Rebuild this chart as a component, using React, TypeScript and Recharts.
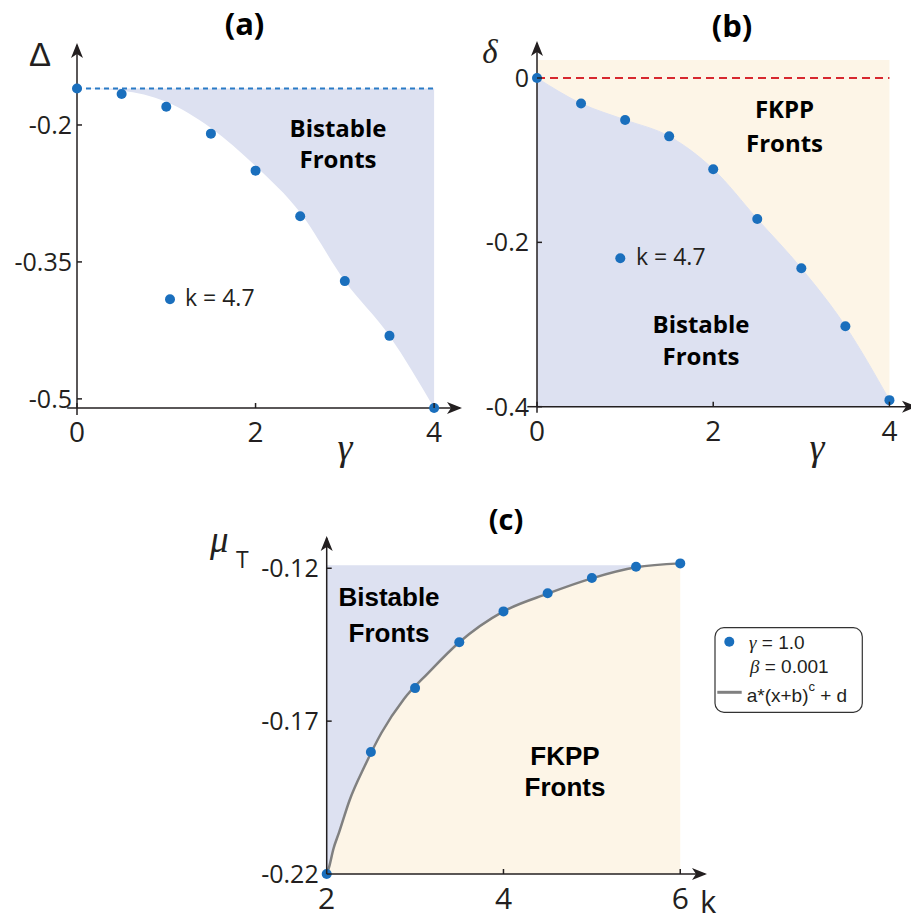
import {
  ComposedChart,
  Area,
  Line,
  Scatter,
  XAxis,
  YAxis,
  ReferenceLine,
  ReferenceDot,
} from "recharts";

// (a) threshold Delta vs gamma at k = 4.7
const gammaA = [0, 0.5, 1, 1.5, 2, 2.5, 3, 3.5, 4];
const deltaA = [-0.16, -0.166, -0.18, -0.2095, -0.25, -0.3, -0.371, -0.431, -0.51];
const edgeA = [-0.16, -0.1624, -0.1745, -0.2033, -0.245, -0.296, -0.371, -0.431, -0.51];
const deltaTopA = -0.16;
const xTicksA = [0, 2, 4];
const yTicksA = [-0.5, -0.35, -0.2];

// (b) delta vs gamma at k = 4.7
const gammaB = [0, 0.5, 1, 1.5, 2, 2.5, 3, 3.5, 4];
const deltaB = [0, -0.031, -0.051, -0.071, -0.111, -0.1716, -0.2316, -0.302, -0.392];
const fkppTopB = 0.022;
const xTicksB = [0, 2, 4];
const yTicksB = [-0.4, -0.2, 0];

// (c) mu_T vs k, gamma = 1.0, beta = 0.001
const kC = [2, 2.5, 3, 3.5, 4, 4.5, 5, 5.5, 6];
const muC = [-0.22, -0.1801, -0.1592, -0.1442, -0.1341, -0.1282, -0.1232, -0.1195, -0.1184];
const kFit = [2, 2.03, 2.075, 2.14, 2.26, 2.43, 2.62, 2.87, 3.15, 3.5, 4, 4.5, 5, 5.5, 6];
const muFit = [-0.22, -0.2174, -0.2119, -0.2064, -0.1958, -0.1847, -0.1738, -0.1629, -0.1542, -0.1442, -0.1341, -0.1283, -0.1233, -0.1197, -0.1184];
const bistableTopC = -0.119;
const xTicksC = [2, 4, 6];
const yTicksC = [-0.22, -0.17, -0.12];

const AXIS = "#231f20";
const DOT = "#1a6fbd";
const BLUE = "#dde1f1";
const YELLOW = "#fdf5e7";
const FIT = "#808080";
const RED = "#d7282f";
const DASH = "#2a7bc6";

const SANS = "'Open Sans', sans-serif";
const SERIF = "'Liberation Serif', serif";
const HEL = "'Liberation Sans', Arial, sans-serif";
const axisLine = { stroke: AXIS, strokeWidth: 1.5 };

const dot = (p: any) => <circle cx={p.cx} cy={p.cy} r={5} fill={DOT} />;

// ticks point inwards, so the tick marks are drawn here together with the labels
const xTick = (size: number, gap: number) => (p: any) => (
  <g>
    <line x1={p.x} y1={p.y} x2={p.x} y2={p.y - 5} stroke={AXIS} strokeWidth={1.5} />
    <text x={p.x} y={p.y + gap} dy="0.72em" textAnchor="middle" fontFamily={SANS} fontSize={size} fill={AXIS}>
      {p.payload.value}
    </text>
  </g>
);
const yTick = (size: number, gap: number) => (p: any) => (
  <g>
    <line x1={p.x} y1={p.y} x2={p.x + 5} y2={p.y} stroke={AXIS} strokeWidth={1.5} />
    <text x={p.x - gap} y={p.y} dy="0.36em" textAnchor="end" fontFamily={SANS} fontSize={size} fill={AXIS}>
      {p.payload.value}
    </text>
  </g>
);

const arrowRight = (p: any) => (
  <polygon
    points={`${p.cx + 2},${p.cy} ${p.cx - 13},${p.cy - 6} ${p.cx - 9},${p.cy} ${p.cx - 13},${p.cy + 6}`}
    fill={AXIS}
  />
);
const arrowUp = (p: any) => (
  <polygon
    points={`${p.cx},${p.cy - 2} ${p.cx - 6},${p.cy + 13} ${p.cx},${p.cy + 9} ${p.cx + 6},${p.cy + 13}`}
    fill={AXIS}
  />
);

function PanelA() {
  const rows = gammaA.map((g, i) => ({ x: g, band: [edgeA[i], deltaTopA] }));
  const pts = gammaA.map((g, i) => ({ x: g, y: deltaA[i] }));
  const yMin = -0.51;
  const yMax = -0.1124;
  const xMax = 4.29;
  return (
    <div style={{ position: "absolute", left: 0, top: 0 }}>
      <ComposedChart width={470} height={470} data={rows} margin={{ top: 45, right: 10, bottom: 32, left: 17 }}>
        <Area dataKey="band" type="monotone" fill={BLUE} fillOpacity={1} stroke="none" isAnimationActive={false} />
        <XAxis type="number" dataKey="x" domain={[0, xMax]} ticks={xTicksA} interval={0} height={30}
          tickSize={0} tickMargin={0} axisLine={axisLine} tickLine={false} tick={xTick(28, 14)} />
        <YAxis type="number" domain={[yMin, yMax]} ticks={yTicksA} interval={0} width={60}
          tickSize={0} tickMargin={0} axisLine={axisLine} tickLine={false} tick={yTick(25, 5)} />
        <ReferenceLine segment={[{ x: -0.11, y: yMin }, { x: 0, y: yMin }]} stroke={AXIS} strokeWidth={1.5} ifOverflow="visible" />
        <ReferenceLine segment={[{ x: 0, y: yMin }, { x: 0, y: yMin - 0.0077 }]} stroke={AXIS} strokeWidth={1.5} ifOverflow="visible" />
        <ReferenceLine segment={[{ x: 0, y: deltaTopA }, { x: 4, y: deltaTopA }]} stroke={DASH} strokeWidth={2} strokeDasharray="5 4" ifOverflow="visible" />
        <Scatter data={pts} dataKey="y" shape={dot} isAnimationActive={false} />
        <ReferenceDot x={xMax} y={yMin} shape={arrowRight} ifOverflow="visible" />
        <ReferenceDot x={0} y={yMax} shape={arrowUp} ifOverflow="visible" />
      </ComposedChart>
    </div>
  );
}

function PanelB() {
  const rows = gammaB.map((g, i) => ({ x: g, bist: [-0.4, deltaB[i]], fkpp: [deltaB[i], fkppTopB] }));
  const pts = gammaB.map((g, i) => ({ x: g, y: deltaB[i] }));
  const yMin = -0.4;
  const yMax = 0.0426;
  const xMax = 4.29;
  return (
    <div style={{ position: "absolute", left: 450, top: 0 }}>
      <ComposedChart width={470} height={470} data={rows} margin={{ top: 43, right: 5, bottom: 33.3, left: 27 }}>
        <Area dataKey="fkpp" type="monotone" fill={YELLOW} fillOpacity={1} stroke="none" isAnimationActive={false} />
        <Area dataKey="bist" type="monotone" fill={BLUE} fillOpacity={1} stroke={BLUE} strokeWidth={1} isAnimationActive={false} />
        <XAxis type="number" dataKey="x" domain={[0, xMax]} ticks={xTicksB} interval={0} height={30}
          tickSize={0} tickMargin={0} axisLine={axisLine} tickLine={false} tick={xTick(28, 14)} />
        <YAxis type="number" domain={[yMin, yMax]} ticks={yTicksB} interval={0} width={60}
          tickSize={0} tickMargin={0} axisLine={axisLine} tickLine={false} tick={yTick(25, 8)} />
        <ReferenceLine segment={[{ x: -0.11, y: yMin }, { x: 0, y: yMin }]} stroke={AXIS} strokeWidth={1.5} ifOverflow="visible" />
        <ReferenceLine segment={[{ x: 0, y: yMin }, { x: 0, y: yMin - 0.0073 }]} stroke={AXIS} strokeWidth={1.5} ifOverflow="visible" />
        <ReferenceLine segment={[{ x: 0, y: 0 }, { x: 4, y: 0 }]} stroke={RED} strokeWidth={2} strokeDasharray="8 5" ifOverflow="visible" />
        <Scatter data={pts} dataKey="y" shape={dot} isAnimationActive={false} />
        <ReferenceDot x={xMax} y={yMin} shape={arrowRight} ifOverflow="visible" />
        <ReferenceDot x={0} y={yMax} shape={arrowUp} ifOverflow="visible" />
      </ComposedChart>
    </div>
  );
}

function PanelC() {
  const rows = kFit.map((k, i) => ({
    x: k,
    fit: muFit[i],
    bist: [muFit[i], Math.max(muFit[i], bistableTopC)],
    fkpp: [-0.22, muFit[i]],
  }));
  const pts = kC.map((k, i) => ({ x: k, y: muC[i] }));
  const yMin = -0.22;
  const yMax = -0.1101;
  const xMin = 2;
  const xMax = 6.28;
  return (
    <div style={{ position: "absolute", left: 180, top: 480 }}>
      <ComposedChart width={560} height={442} data={rows} margin={{ top: 58, right: 35, bottom: 18, left: 86.7 }}>
        <Area dataKey="bist" type="monotone" fill={BLUE} fillOpacity={1} stroke="none" isAnimationActive={false} />
        <Area dataKey="fkpp" type="monotone" fill={YELLOW} fillOpacity={1} stroke="none" isAnimationActive={false} />
        <XAxis type="number" dataKey="x" domain={[xMin, xMax]} ticks={xTicksC} interval={0} height={30}
          tickSize={0} tickMargin={0} axisLine={axisLine} tickLine={false} tick={xTick(30, 13)} />
        <YAxis type="number" domain={[yMin, yMax]} ticks={yTicksC} interval={0} width={60}
          tickSize={0} tickMargin={0} axisLine={axisLine} tickLine={false} tick={yTick(25, 8)} />
        <Line dataKey="fit" type="monotone" stroke={FIT} strokeWidth={2.5} dot={false} isAnimationActive={false} />
        <Scatter data={pts} dataKey="y" shape={dot} isAnimationActive={false} />
        <ReferenceDot x={xMax} y={yMin} shape={arrowRight} ifOverflow="visible" />
        <ReferenceDot x={xMin} y={yMax} shape={arrowUp} ifOverflow="visible" />
      </ComposedChart>
    </div>
  );
}

// titles, axis names, region labels and legends drawn over the three panels
function Annotations() {
  const bold = (x: number, y: number, s: string, size = 24, fam = SANS) => (
    <text x={x} y={y} textAnchor="middle" fontFamily={fam} fontWeight={700} fontSize={size} fill="#000">{s}</text>
  );
  const greek = (x: number, y: number, s: string, size = 30) => (
    <text x={x} y={y} textAnchor="middle" fontFamily={SERIF} fontStyle="italic" fontSize={size} fill={AXIS}>{s}</text>
  );
  return (
    <svg width={911} height={922} style={{ position: "absolute", left: 0, top: 0, pointerEvents: "none" }}>
      {/* (a) */}
      {bold(244.5, 35, "(a)", 31)}
      <text x={40} y={66} textAnchor="middle" fontFamily={HEL} fontSize={33} fill={AXIS}>Δ</text>
      {greek(345, 460, "γ", 38)}
      {bold(338, 137, "Bistable")}
      {bold(338, 168, "Fronts")}
      <circle cx={170} cy={299.3} r={5} fill={DOT} />
      <text x={185} y={306} fontFamily={SANS} fontSize={23} fill={AXIS}>k = 4.7</text>

      {/* (b) */}
      {bold(732, 37, "(b)", 31)}
      {greek(490, 63, "δ", 33)}
      {greek(817, 460, "γ", 38)}
      {bold(784.5, 118, "FKPP")}
      {bold(784.5, 152, "Fronts")}
      {bold(701, 333, "Bistable")}
      {bold(701, 365, "Fronts")}
      <circle cx={620.3} cy={258.3} r={5} fill={DOT} />
      <text x={636} y={265} fontFamily={SANS} fontSize={23} fill={AXIS}>k = 4.7</text>

      {/* (c) */}
      {bold(506, 530, "(c)", 29)}
      <text x={210} y={552} fontFamily={SERIF} fontStyle="italic" fontSize={37} fill={AXIS}>μ</text>
      <text x={236} y={568} fontFamily={SANS} fontSize={23} fill={AXIS}>T</text>
      <text x={700} y={913} fontFamily={SANS} fontSize={31} fill={AXIS}>k</text>
      {bold(389, 606, "Bistable", 26, HEL)}
      {bold(389, 642, "Fronts", 26, HEL)}
      {bold(565, 765, "FKPP", 26, HEL)}
      {bold(565, 796, "Fronts", 26, HEL)}

      <rect x={715} y={627.7} width={147.3} height={84.6} rx={9} fill="#fff" stroke="#333" strokeWidth={1.2} />
      <circle cx={729.3} cy={641.7} r={5} fill={DOT} />
      <text x={749} y={649} fontFamily={HEL} fontSize={19} fill={AXIS}>
        <tspan fontFamily={SERIF} fontStyle="italic">γ</tspan>
        <tspan> = 1.0</tspan>
      </text>
      <text x={750} y={673} fontFamily={HEL} fontSize={19} fill={AXIS}>
        <tspan fontFamily={SERIF} fontStyle="italic">β</tspan>
        <tspan> = 0.001</tspan>
      </text>
      <line x1={717.3} y1={692.3} x2={741.7} y2={692.3} stroke={FIT} strokeWidth={3} />
      <text x={746.7} y={702.3} fontFamily={HEL} fontSize={19} fill={AXIS}>
        a*(x+b)<tspan fontSize={13} dy={-11}>c</tspan>
        <tspan dy={11}> + d</tspan>
      </text>
    </svg>
  );
}

export default function App() {
  return (
    <div style={{ position: "absolute", left: 0, top: 0, width: 911, height: 922, overflow: "hidden", background: "#fff" }}>
      <PanelA />
      <PanelB />
      <PanelC />
      <Annotations />
    </div>
  );
}
